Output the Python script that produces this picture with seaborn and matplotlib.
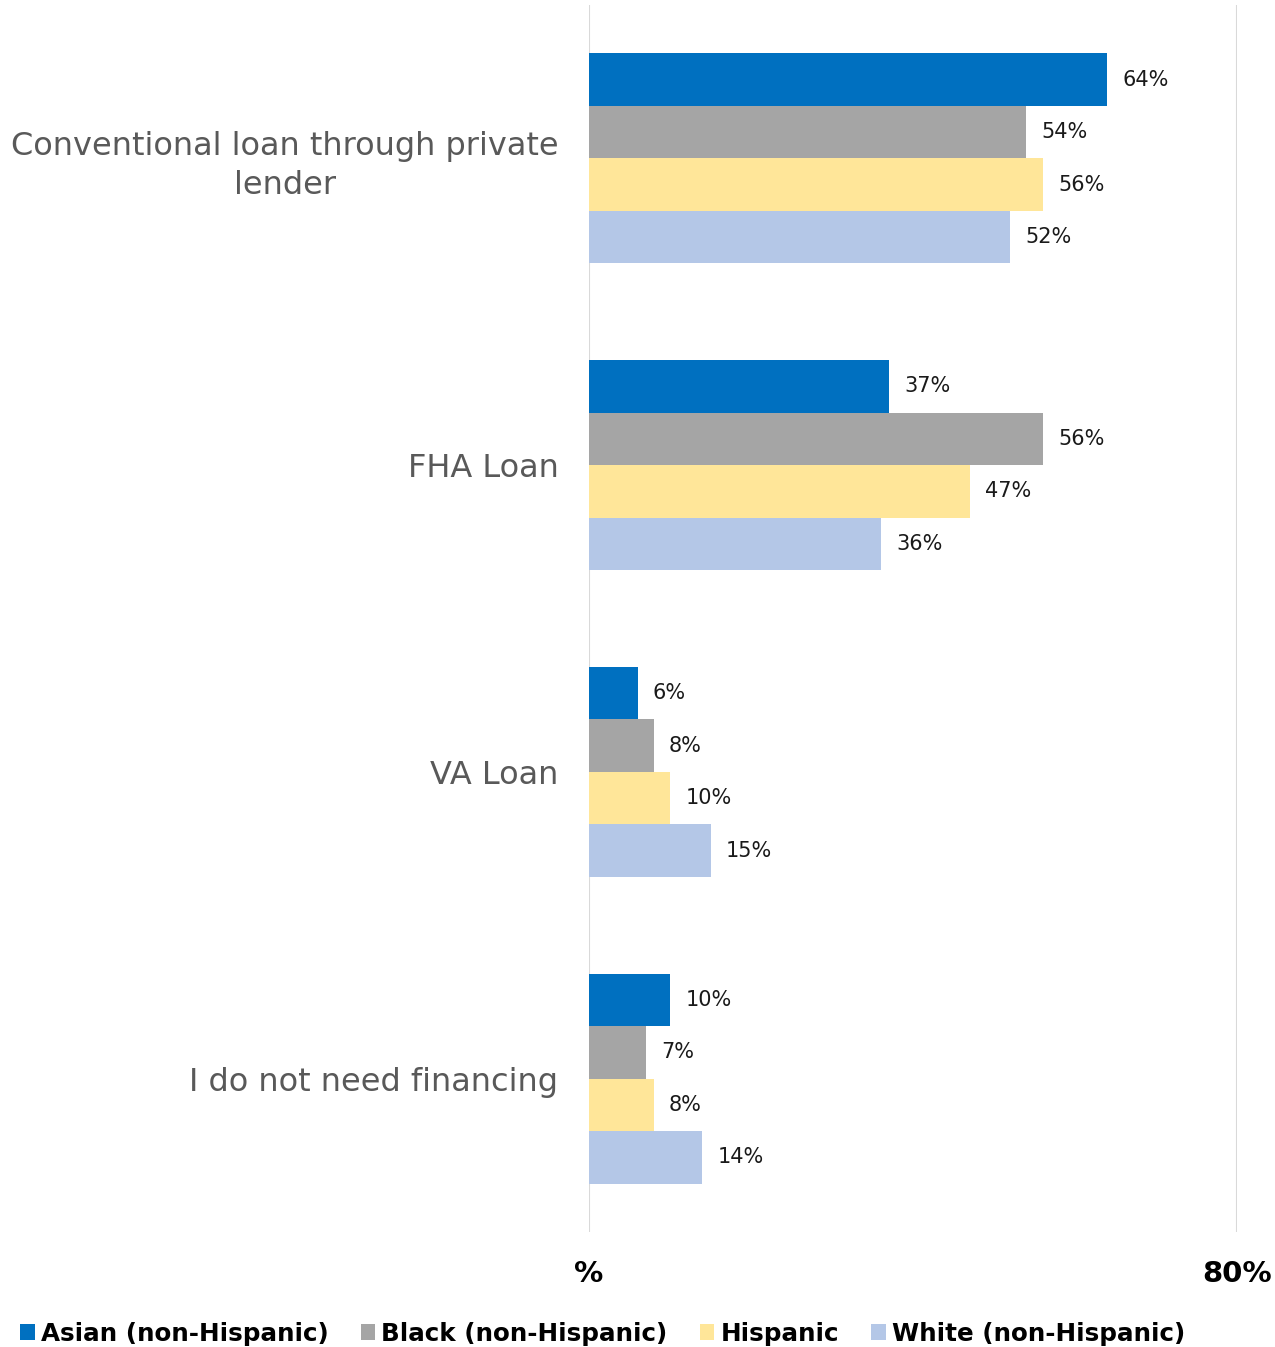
import matplotlib
matplotlib.use("Agg")
import matplotlib.pyplot as plt
import seaborn as sns
import pandas as pd
from matplotlib.patches import Patch

# Financing options and response shares (%) by group
categories = [
    "Conventional loan through private lender",
    "FHA Loan",
    "VA Loan",
    "I do not need financing",
]
category_labels = [
    "Conventional loan through private\nlender",
    "FHA Loan",
    "VA Loan",
    "I do not need financing",
]
groups = ["Asian (non-Hispanic)", "Black (non-Hispanic)", "Hispanic", "White (non-Hispanic)"]
asian = [64, 37, 6, 10]
black = [54, 56, 8, 7]
hispanic = [56, 47, 10, 8]
white = [52, 36, 15, 14]
x_ticks = [0, 80]
x_tick_labels = ["%", "80%"]

colors = ["#0070C0", "#A5A5A5", "#FFE699", "#B4C7E7"]

rows = []
for g, vals in zip(groups, [asian, black, hispanic, white]):
    for c, v in zip(categories, vals):
        rows.append({"category": c, "group": g, "value": v})
df = pd.DataFrame(rows)

sns.set_theme(style="white")
plt.rcParams["font.family"] = ["DejaVu Sans"]

fig = plt.figure(figsize=(12.75, 13.47), dpi=100)
ax = fig.add_axes([589 / 1275, 1 - 1232 / 1347, (1237 - 589) / 1275, (1232 - 5) / 1347])

sns.barplot(
    data=df, y="category", x="value", hue="group", order=categories,
    hue_order=groups, palette=colors, orient="h", width=0.684,
    saturation=1, ax=ax, legend=False, errorbar=None, linewidth=0,
)

ax.set_xlim(0, 80)
ax.set_ylim(3.5, -0.5)
ax.set_xticks(x_ticks)
ax.set_xticklabels(x_tick_labels, fontsize=21, fontweight="bold", color="black")
ax.set_yticks(range(len(categories)))
ax.set_yticklabels(category_labels, fontsize=23, color="#595959")
for t in ax.get_yticklabels():
    t.set_multialignment("center")
    t.set_linespacing(1.35)
ax.tick_params(axis="x", length=0, pad=20)
ax.tick_params(axis="y", length=0, pad=22)
ax.set_xlabel("")
ax.set_ylabel("")
for s in ax.spines.values():
    s.set_visible(False)
ax.grid(axis="x", color="#D9D9D9", linewidth=1.5)
ax.set_axisbelow(True)

for cont in ax.containers:
    ax.bar_label(cont, labels=[f"{v:.0f}%" for v in cont.datavalues],
                 padding=11, fontsize=15, color="#1a1a1a")

handles = [Patch(facecolor=c, edgecolor="none") for c in colors]
leg = fig.legend(handles, groups, loc="center left", bbox_to_anchor=(20 / 1275, 0.0097),
                 ncol=4, frameon=False, borderpad=0, borderaxespad=0,
                 handlelength=0.6, handleheight=0.6,
                 handletextpad=0.25, columnspacing=1.3,
                 prop={"size": 17.7, "weight": "bold"})
for t in leg.get_texts():
    t.set_color("black")

fig.savefig("out.png", dpi=100)
